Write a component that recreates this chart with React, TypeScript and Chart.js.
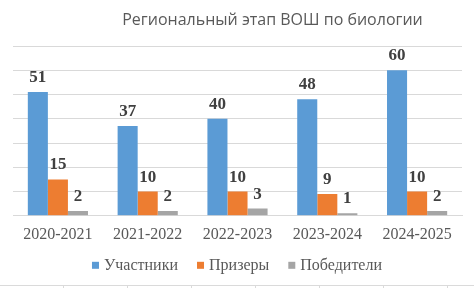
import React, { useEffect, useRef } from "react";
import { Chart, registerables } from "chart.js";

Chart.register(...registerables);

const categories = ["2020-2021", "2021-2022", "2022-2023", "2023-2024", "2024-2025"];
const participants = [51, 37, 40, 48, 60];
const prizewinners = [15, 10, 10, 9, 10];
const winners = [2, 2, 3, 1, 2];
const seriesNames = ["Участники", "Призеры", "Победители"];
const seriesColors = ["#5B9BD5", "#ED7D31", "#A5A5A5"];
const titleText = "Региональный этап ВОШ по биологии";

const SERIF = "Liberation Serif";

const titlePlugin = {
  id: "customTitle",
  afterDraw(chart: any) {
    const { ctx, chartArea } = chart;
    ctx.save();
    ctx.font = "16px 'Open Sans', sans-serif";
    ctx.fillStyle = "#595959";
    ctx.textAlign = "center";
    ctx.textBaseline = "middle";
    ctx.fillText(titleText, (chartArea.left + chartArea.right) / 2 + 35, 20);
    ctx.restore();
  },
};

const legendPlugin = {
  id: "customLegend",
  afterDraw(chart: any) {
    const { ctx, chartArea } = chart;
    ctx.save();
    ctx.font = `16px '${SERIF}', serif`;
    ctx.textBaseline = "middle";
    ctx.textAlign = "left";
    const box = 7;
    const gapText = 5;
    const gapItem = 19;
    const items = chart.data.datasets.map((ds: any) => ({
      text: ds.label,
      color: ds.backgroundColor,
      w: ctx.measureText(ds.label).width,
    }));
    const total =
      items.reduce((s: number, it: any) => s + box + gapText + it.w, 0) + gapItem * (items.length - 1);
    let x = (chart.width - total) / 2;
    const y = chartArea.bottom + 50;
    items.forEach((it: any) => {
      ctx.fillStyle = it.color;
      ctx.fillRect(x, y - box / 2 - 0.5, box, box);
      x += box + gapText;
      ctx.fillStyle = "#595959";
      ctx.fillText(it.text, x, y);
      x += it.w + gapItem;
    });
    ctx.restore();
  },
};

const labelPlugin = {
  id: "barLabels",
  afterDatasetsDraw(chart: any) {
    const { ctx } = chart;
    ctx.save();
    ctx.font = `bold 17px '${SERIF}', serif`;
    ctx.fillStyle = "#404040";
    ctx.textAlign = "center";
    ctx.textBaseline = "alphabetic";
    chart.data.datasets.forEach((ds: any, i: number) => {
      const meta = chart.getDatasetMeta(i);
      meta.data.forEach((bar: any, j: number) => {
        ctx.fillText(String(ds.data[j]), bar.x, bar.y - 10);
      });
    });
    ctx.restore();
  },
};

export default function App() {
  const ref = useRef<HTMLCanvasElement>(null);
  useEffect(() => {
    if (!ref.current) return;
    Chart.defaults.font.family = SERIF;
    const chart = new Chart(ref.current, {
      type: "bar",
      data: {
        labels: categories,
        datasets: [
          { label: seriesNames[0], data: participants, backgroundColor: seriesColors[0] },
          { label: seriesNames[1], data: prizewinners, backgroundColor: seriesColors[1] },
          { label: seriesNames[2], data: winners, backgroundColor: seriesColors[2] },
        ],
      },
      options: {
        animation: false,
        responsive: false,
        maintainAspectRatio: false,
        datasets: { bar: { barPercentage: 1, categoryPercentage: 0.67 } },
        layout: { padding: { top: 46, left: 13, right: 12, bottom: 35 } },
        plugins: {
          title: { display: false },
          tooltip: { enabled: false },
          legend: { display: false },
        },
        scales: {
          x: {
            grid: { display: false, drawTicks: false },
            border: { display: true, color: "#d9d9d9" },
            ticks: {
              padding: 9,
              color: "#595959",
              font: { family: SERIF, size: 16 },
            },
          },
          y: {
            min: 0,
            max: 70,
            ticks: { stepSize: 10, display: false },
            grid: { color: "#d9d9d9", drawTicks: false },
            border: { display: false },
          },
        },
      },
      plugins: [titlePlugin, labelPlugin, legendPlugin],
    });
    return () => chart.destroy();
  }, []);
  return (
    <div style={{ position: "fixed", left: 0, top: 0, width: 474, height: 288, background: "#fff" }}>
      <canvas ref={ref} width={474} height={288} style={{ display: "block" }} />
      <div
        style={{
          position: "absolute",
          left: 0,
          top: 285,
          width: 474,
          height: 3,
          borderTop: "1px solid #dadada",
          background:
            "repeating-linear-gradient(to right, transparent 0px, transparent 63px, #dadada 63px, #dadada 64px)",
        }}
      />
    </div>
  );
}
